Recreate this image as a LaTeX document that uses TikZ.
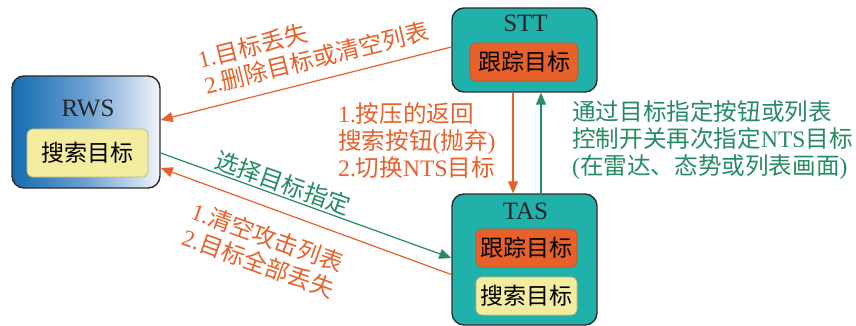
\documentclass[tikz,border=0pt]{standalone}
\usepackage{fontspec}
\setmainfont{Liberation Serif}
\newfontfamily\cjk{Noto Sans CJK SC}
\usetikzlibrary{arrows.meta}
\newcommand\zh[1]{{\cjk #1}}
\definecolor{tealbox}{RGB}{32,178,170}
\definecolor{orangeA}{RGB}{232,96,42}
\definecolor{orangeB}{RGB}{200,80,30}
\definecolor{yellowA}{RGB}{244,236,158}
\definecolor{yellowB}{RGB}{190,182,120}
\definecolor{greenA}{RGB}{36,140,98}
\definecolor{boxline}{RGB}{45,45,45}
\definecolor{rwsblue}{RGB}{18,108,176}
\definecolor{rwsmid}{RGB}{110,160,210}
\definecolor{rwsright}{RGB}{242,245,250}
\begin{document}
\begin{tikzpicture}[x=1pt,y=-1pt,
  bigbox/.style={draw=boxline, line width=1.4pt, rounded corners=12pt, inner sep=0pt},
  innerbox/.style={rounded corners=6pt, inner sep=0pt, line width=0.6pt,
     font=\fontsize{23}{27}\selectfont\cjk},
  trackbox/.style={innerbox, fill=orangeA, draw=orangeB},
  searchbox/.style={innerbox, fill=yellowA, draw=yellowB},
  title/.style={inner sep=0pt, text=black!85, font=\fontsize{25}{28}\selectfont},
  lab/.style={inner sep=0pt, align=left, font=\fontsize{23.6}{27}\selectfont},
  olab/.style={lab, text=orangeA},
  glab/.style={lab, text=greenA},
  oarrow/.style={draw=orangeA, line width=1.2pt, -{Triangle[length=12pt,width=10pt]}},
  garrow/.style={draw=greenA, line width=1.2pt, -{Triangle[length=12pt,width=10pt]}}
]
\useasboundingbox (0,0) rectangle (856,326);

% RWS
\node[bigbox, minimum width=148pt, minimum height=112pt,
      left color=rwsblue, right color=rwsright, middle color=rwsmid] (rws) at (86,132) {};
\node[title] (rwst) at (88,108) {RWS};
\node[searchbox, minimum width=121pt, minimum height=48pt] (rwss) at (87.5,153) {搜索目标};

% STT
\node[bigbox, fill=tealbox, minimum width=145pt, minimum height=84pt] (stt) at (524.5,50) {};
\node[title] (sttt) at (525.5,23) {STT};
\node[trackbox, minimum width=108pt, minimum height=38pt] (sttk) at (524,62) {跟踪目标};

% TAS
\node[bigbox, fill=tealbox, minimum width=145pt, minimum height=131pt] (tas) at (524.5,259.5) {};
\node[title] (tast) at (525.5,211) {TAS};
\node[trackbox, minimum width=101pt, minimum height=38pt] (task) at (526.5,248) {跟踪目标};
\node[searchbox, minimum width=101pt, minimum height=38pt] (tass) at (526.5,296) {搜索目标};

% connectors
\draw[oarrow] ([yshift=3pt]stt.west) -- ([yshift=12pt]rws.east);
\draw[garrow] ([yshift=-21pt]rws.east) -- ([yshift=1.5pt]tas.west);
\draw[oarrow] ([yshift=-15pt]tas.west) -- ([yshift=-36pt]rws.east);
\draw[oarrow] ([xshift=-11.5pt]stt.south) -- ([xshift=-11.5pt]tas.north);
\draw[garrow] ([xshift=16.5pt]tas.north) -- ([xshift=16.5pt]stt.south);

% labels
\node[olab, rotate=14] (l1) at (313,45) {1.\zh{目标丢失}\\2.\zh{删除目标或清空列表}};
\node[glab, rotate=-19.5] (l2) at (283,183) {\zh{选择目标指定}};
\node[olab, rotate=-19.8] (l3) at (263,250) {1.\zh{清空攻击列表}\\2.\zh{目标全部丢失}};
\node[olab, anchor=west] (l4) at (338,140) {1.\zh{按压的返回}\\\zh{搜索按钮}(\zh{抛弃})\\2.\zh{切换}NTS\zh{目标}};
\node[glab, anchor=west] (l5) at (572,140) {\zh{通过目标指定按钮或列表}\\\zh{控制开关再次指定}NTS\zh{目标}\\(\zh{在雷达、态势或列表画面})};
\end{tikzpicture}
\end{document}
